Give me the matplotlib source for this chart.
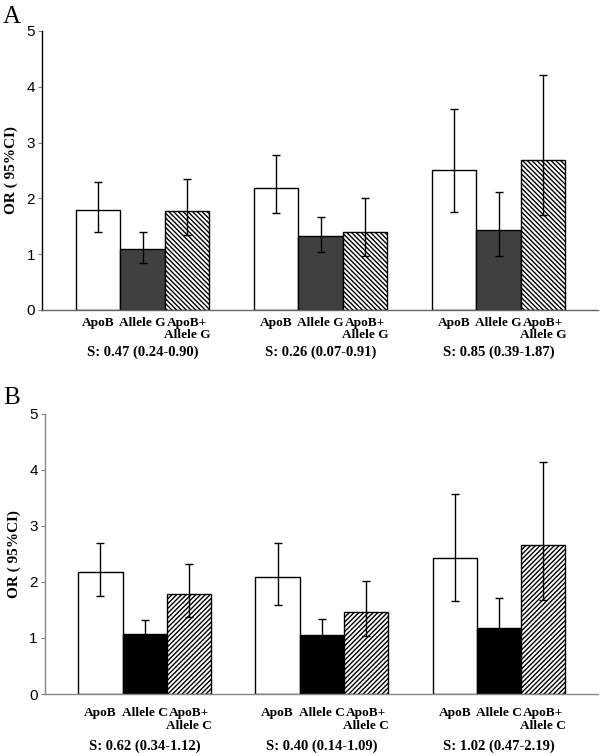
import matplotlib
matplotlib.use("Agg")
import matplotlib.pyplot as plt
import numpy as np

# ---- Data ----
groups = [0, 1, 2]

# Panel A
a_labels = ["ApoB", "Allele G", "ApoB+\nAllele G"]
a_apob = [1.80, 2.19, 2.51]
a_apob_lo = [1.40, 1.73, 1.76]
a_apob_hi = [2.30, 2.78, 3.60]
a_allele = [1.09, 1.32, 1.43]
a_allele_lo = [0.85, 1.04, 0.96]
a_allele_hi = [1.39, 1.67, 2.12]
a_comb = [1.77, 1.39, 2.68]
a_comb_lo = [1.34, 0.96, 1.70]
a_comb_hi = [2.34, 2.00, 4.21]
a_syn = ["S: 0.47 (0.24-0.90)", "S: 0.26 (0.07-0.91)", "S: 0.85 (0.39-1.87)"]

# Panel B
b_labels = ["ApoB", "Allele C", "ApoB+\nAllele C"]
b_apob = [2.17, 2.08, 2.42]
b_apob_lo = [1.75, 1.59, 1.66]
b_apob_hi = [2.70, 2.70, 3.57]
b_allele = [1.07, 1.06, 1.18]
b_allele_lo = [0.85, 0.84, 0.90]
b_allele_hi = [1.32, 1.33, 1.72]
b_comb = [1.78, 1.46, 2.66]
b_comb_lo = [1.37, 1.03, 1.68]
b_comb_hi = [2.32, 2.01, 4.14]
b_syn = ["S: 0.62 (0.34-1.12)", "S: 0.40 (0.14-1.09)", "S: 1.02 (0.47-2.19)"]

yticks = [0, 1, 2, 3, 4, 5]

plt.rcParams['hatch.linewidth'] = 1.0

fig = plt.figure(figsize=(6, 7.56), dpi=100)

serif = "Liberation Serif"
sans = "Liberation Sans"


def panel(rect, labels, apob, apob_lo, apob_hi, allele, allele_lo, allele_hi,
          comb, comb_lo, comb_hi, syn, dark, hatch, spine_left, spine_bottom,
          xpad, syn_off):
    ax = fig.add_axes(rect)
    w = 0.25
    x = np.array(groups, dtype=float)
    series = [
        (x - w, apob, apob_lo, apob_hi, dict(facecolor="white", edgecolor="black")),
        (x, allele, allele_lo, allele_hi, dict(facecolor=dark, edgecolor="black")),
        (x + w, comb, comb_lo, comb_hi, dict(facecolor="white", edgecolor="black", hatch=hatch)),
    ]
    ticks = []
    ticklabels = []
    for xs, v, lo, hi, style in series:
        v = np.array(v); lo = np.array(lo); hi = np.array(hi)
        ax.bar(xs, v, width=w, linewidth=1.0, zorder=2, **style)
        ax.errorbar(xs, v, yerr=[v - lo, hi - v], fmt="none", ecolor="black",
                    elinewidth=1.0, capsize=3, capthick=1.0, zorder=3)
    for i in range(3):
        for j, (xs, *_r) in enumerate(series):
            ticks.append(xs[i])
            ticklabels.append(labels[j])
    ax.set_xticks(ticks)
    ax.set_xticklabels(ticklabels, fontfamily=serif, fontweight="bold", fontsize=9.6,
                       linespacing=1.05)
    ax.tick_params(axis="x", length=0, pad=xpad)
    ax.set_xlim(-0.565, 2.56)
    ax.set_ylim(0, 5)
    ax.set_yticks(yticks)
    ax.set_yticklabels([str(t) for t in yticks], fontfamily=sans, fontsize=11)
    ax.tick_params(axis="y", length=3, width=0.8, color="gray", pad=2)
    for s in ["top", "right"]:
        ax.spines[s].set_visible(False)
    ax.spines["left"].set_color(spine_left)
    ax.spines["bottom"].set_color(spine_bottom)
    ax.spines["left"].set_linewidth(1.0)
    ax.spines["bottom"].set_linewidth(1.0)
    ax.set_ylabel("OR ( 95%CI)", fontfamily=serif, fontweight="bold", fontsize=11, labelpad=6)
    for i, g in enumerate(groups):
        ax.annotate(syn[i], xy=(g, 0), xycoords=("data", "axes fraction"),
                    xytext=(0, syn_off), textcoords="offset points", ha="center", va="center",
                    fontfamily=serif, fontweight="bold", fontsize=10.5)
    return ax


panel([0.070, 0.590, 0.927, 0.369], a_labels, a_apob, a_apob_lo, a_apob_hi,
      a_allele, a_allele_lo, a_allele_hi, a_comb, a_comb_lo, a_comb_hi, a_syn,
      "#404040", "\\" * 7, "black", "#666666", 5, -30.5)
panel([0.0745, 0.082, 0.9225, 0.371], b_labels, b_apob, b_apob_lo, b_apob_hi,
      b_allele, b_allele_lo, b_allele_hi, b_comb, b_comb_lo, b_comb_hi, b_syn,
      "black", "/" * 7, "#888888", "#888888", 9.5, -37.5)

fig.text(0.005, 0.992, "A", fontfamily=serif, fontsize=18, ha="left", va="top")
fig.text(0.005, 0.488, "B", fontfamily=serif, fontsize=18, ha="left", va="top")

fig.savefig("out.png", dpi=100)
